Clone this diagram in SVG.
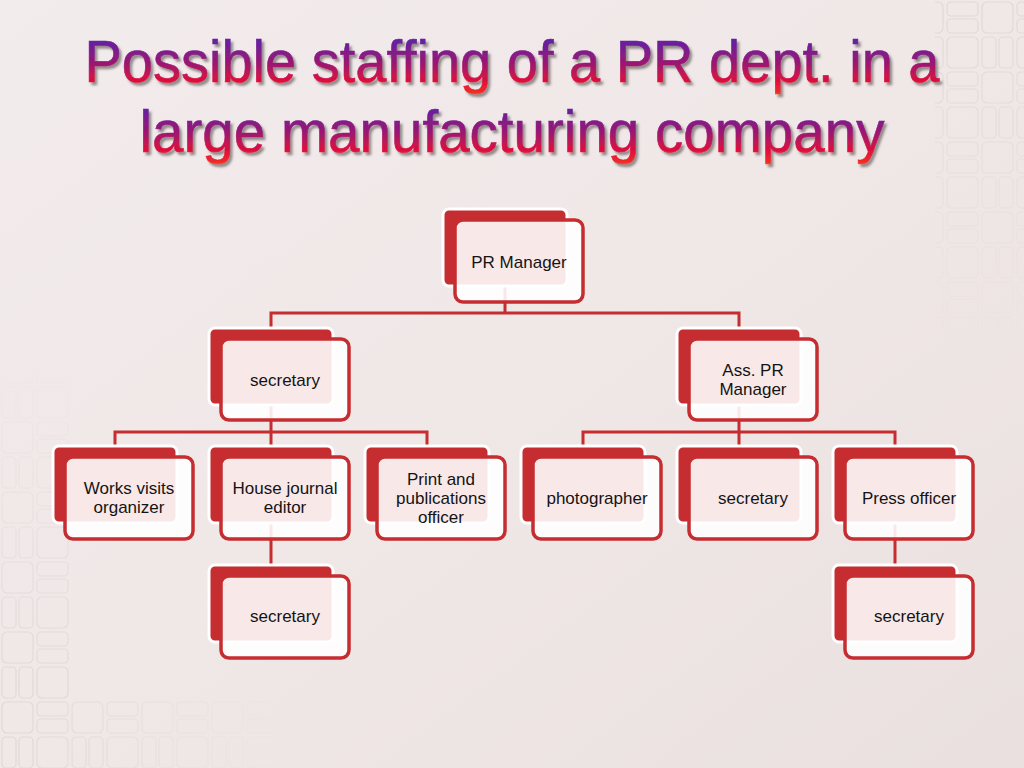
<svg xmlns="http://www.w3.org/2000/svg" width="1024" height="768" viewBox="0 0 1024 768">
<defs>
<linearGradient id="bg" x1="0" y1="0" x2="1" y2="1">
<stop offset="0" stop-color="#f3ecec"/>
<stop offset="0.5" stop-color="#f0e7e7"/>
<stop offset="1" stop-color="#eae0e0"/>
</linearGradient>
<linearGradient id="t1" gradientUnits="userSpaceOnUse" x1="0" y1="38" x2="0" y2="98">
<stop offset="0" stop-color="#5e22a8"/>
<stop offset="0.45" stop-color="#a0166e"/>
<stop offset="0.72" stop-color="#e0103c"/>
<stop offset="0.9" stop-color="#f02a28"/>
<stop offset="1" stop-color="#f5781e"/>
</linearGradient>
<linearGradient id="t2" gradientUnits="userSpaceOnUse" x1="0" y1="106" x2="0" y2="168">
<stop offset="0" stop-color="#5e22a8"/>
<stop offset="0.45" stop-color="#a0166e"/>
<stop offset="0.72" stop-color="#e0103c"/>
<stop offset="0.9" stop-color="#f02a28"/>
<stop offset="1" stop-color="#f5781e"/>
</linearGradient>
<filter id="shadow" x="-3%" y="-10%" width="106%" height="125%">
<feDropShadow dx="2.5" dy="3" stdDeviation="1.2" flood-color="#4a4040" flood-opacity="0.55"/>
</filter>
<pattern id="tiles" width="70" height="70" patternUnits="userSpaceOnUse">
<g fill="none" stroke="#e0d5d5" stroke-width="1.2">
<rect x="2" y="2" width="31" height="31" rx="5"/>
<rect x="37" y="2" width="31" height="14" rx="4"/>
<rect x="37" y="19" width="31" height="14" rx="4"/>
<rect x="2" y="37" width="14" height="31" rx="4"/>
<rect x="19" y="37" width="14" height="31" rx="4"/>
<rect x="37" y="37" width="31" height="31" rx="5"/>
</g>
</pattern>
<linearGradient id="fadeR" x1="0" y1="0" x2="0" y2="1">
<stop offset="0" stop-color="#fff" stop-opacity="0.9"/>
<stop offset="1" stop-color="#fff" stop-opacity="0"/>
</linearGradient>
<mask id="mR"><rect x="935" y="0" width="89" height="340" fill="url(#fadeR)"/></mask>
<linearGradient id="fadeL" x1="0" y1="1" x2="0" y2="0">
<stop offset="0" stop-color="#fff" stop-opacity="0.9"/>
<stop offset="1" stop-color="#fff" stop-opacity="0"/>
</linearGradient>
<linearGradient id="fadeB" x1="0" y1="0" x2="1" y2="0">
<stop offset="0" stop-color="#fff" stop-opacity="0.9"/>
<stop offset="1" stop-color="#fff" stop-opacity="0"/>
</linearGradient>
<mask id="mL"><rect x="0" y="360" width="70" height="340" fill="url(#fadeL)"/><rect x="0" y="700" width="280" height="68" fill="url(#fadeB)"/></mask>
<style>
.back{fill:#c62d30;stroke:#ffffff;stroke-width:3}
.front{fill:#ffffff;fill-opacity:0.89;stroke:#c62d30;stroke-width:3.5}
.lbl{font-family:"Liberation Sans",Arial,sans-serif;font-size:17px;fill:#141414;text-anchor:middle}
.title{font-family:"Liberation Sans",Arial,sans-serif;font-size:60px;text-anchor:middle;stroke-width:0.6}
.conn{fill:none;stroke:#c62d30;stroke-width:3}
</style>
</defs>
<rect width="1024" height="768" fill="url(#bg)"/>
<rect x="935" y="0" width="89" height="340" fill="url(#tiles)" mask="url(#mR)"/>
<rect x="0" y="360" width="280" height="408" fill="url(#tiles)" mask="url(#mL)"/>

<g id="title" filter="url(#shadow)">
<text class="title" x="512" y="82" fill="url(#t1)" stroke="url(#t1)" textLength="855" lengthAdjust="spacingAndGlyphs">Possible staffing of a PR dept. in a</text>
<text class="title" x="512" y="152" fill="url(#t2)" stroke="url(#t2)" textLength="745" lengthAdjust="spacingAndGlyphs">large manufacturing company</text>
</g>

<g id="connectors">
<path class="conn" d="M505,286 V313 M271,328 V313 H739 V328"/>
<path class="conn" d="M271,405 V432 M115,446 V432 H427 V446 M271,432 V446"/>
<path class="conn" d="M739,405 V432 M583,446 V432 H895 V446 M739,432 V446"/>
<path class="conn" d="M271,523 V565"/>
<path class="conn" d="M895,523 V565"/>
</g>

<g id="n-pr-manager">
<rect class="back" x="443" y="209" width="124" height="77" rx="6"/>
<rect class="front" x="455" y="220" width="128" height="82" rx="8"/>
<text class="lbl" x="519" y="268">PR Manager</text>
</g>

<g id="n-secretary-1">
<rect class="back" x="209" y="328" width="124" height="77" rx="6"/>
<rect class="front" x="221" y="339" width="128" height="81" rx="8"/>
<text class="lbl" x="285" y="386">secretary</text>
</g>

<g id="n-ass-pr-manager">
<rect class="back" x="677" y="328" width="124" height="77" rx="6"/>
<rect class="front" x="689" y="339" width="128" height="81" rx="8"/>
<text class="lbl" x="753" y="376">Ass. PR</text>
<text class="lbl" x="753" y="395">Manager</text>
</g>

<g id="n-works-visits">
<rect class="back" x="53" y="446" width="124" height="77" rx="6"/>
<rect class="front" x="65" y="457" width="128" height="82" rx="8"/>
<text class="lbl" x="129" y="494">Works visits</text>
<text class="lbl" x="129" y="513">organizer</text>
</g>

<g id="n-house-journal">
<rect class="back" x="209" y="446" width="124" height="77" rx="6"/>
<rect class="front" x="221" y="457" width="128" height="82" rx="8"/>
<text class="lbl" x="285" y="494">House journal</text>
<text class="lbl" x="285" y="513">editor</text>
</g>

<g id="n-print">
<rect class="back" x="365" y="446" width="124" height="77" rx="6"/>
<rect class="front" x="377" y="457" width="128" height="82" rx="8"/>
<text class="lbl" x="441" y="485">Print and</text>
<text class="lbl" x="441" y="504">publications</text>
<text class="lbl" x="441" y="523">officer</text>
</g>

<g id="n-photographer">
<rect class="back" x="521" y="446" width="124" height="77" rx="6"/>
<rect class="front" x="533" y="457" width="128" height="82" rx="8"/>
<text class="lbl" x="597" y="504">photographer</text>
</g>

<g id="n-secretary-2">
<rect class="back" x="677" y="446" width="124" height="77" rx="6"/>
<rect class="front" x="689" y="457" width="128" height="82" rx="8"/>
<text class="lbl" x="753" y="504">secretary</text>
</g>

<g id="n-press-officer">
<rect class="back" x="833" y="446" width="124" height="77" rx="6"/>
<rect class="front" x="845" y="457" width="128" height="82" rx="8"/>
<text class="lbl" x="909" y="504">Press officer</text>
</g>

<g id="n-secretary-3">
<rect class="back" x="209" y="565" width="124" height="77" rx="6"/>
<rect class="front" x="221" y="576" width="128" height="82" rx="8"/>
<text class="lbl" x="285" y="622">secretary</text>
</g>

<g id="n-secretary-4">
<rect class="back" x="833" y="565" width="124" height="77" rx="6"/>
<rect class="front" x="845" y="576" width="128" height="82" rx="8"/>
<text class="lbl" x="909" y="622">secretary</text>
</g>
</svg>
